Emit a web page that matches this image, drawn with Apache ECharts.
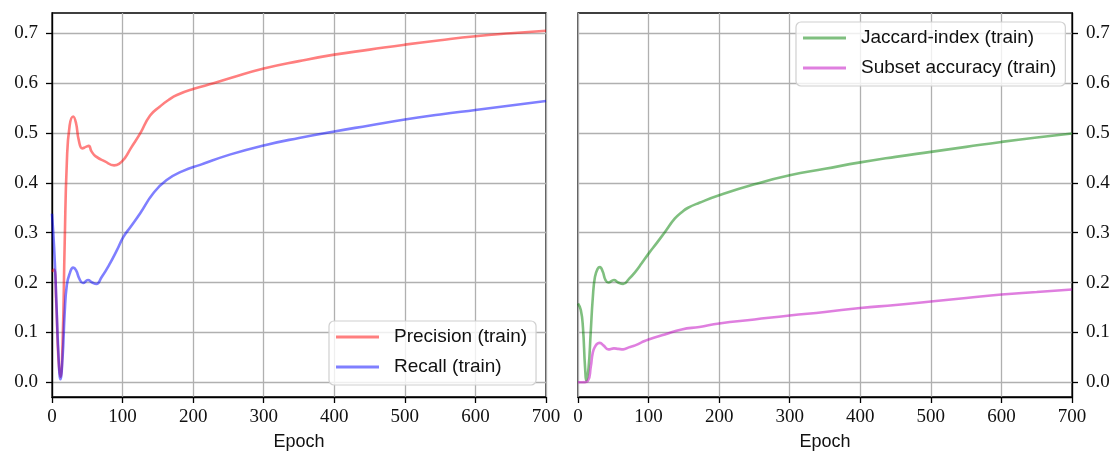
<!DOCTYPE html>
<html>
<head>
<meta charset="utf-8">
<script src="https://cdn.jsdelivr.net/npm/echarts@6/dist/echarts.min.js"></script>
<style>
html,body{margin:0;padding:0;background:#fff;}
#chart{width:1120px;height:456px;}
</style>
</head>
<body>
<div id="chart"></div>
<script>
// ---- data ----
const precisionEpochs = [0, 3, 6, 9, 12, 15, 18, 21, 25, 30, 34, 38, 43, 48, 52, 56, 62, 75, 88, 95, 103, 112, 125, 139, 153, 165, 177, 200, 230, 253, 300, 350, 400, 450, 500, 550, 600, 650, 700];
const precisionValues = [0.222, 0.226, 0.16, 0.05, 0.011, 0.08, 0.28, 0.44, 0.515, 0.533, 0.52, 0.485, 0.469, 0.472, 0.474, 0.463, 0.453, 0.443, 0.435, 0.438, 0.449, 0.47, 0.499, 0.535, 0.553, 0.566, 0.576, 0.588, 0.600, 0.610, 0.629, 0.644, 0.657, 0.667, 0.677, 0.686, 0.694, 0.700, 0.705];

const recallEpochs = [0, 3, 6, 9, 12, 15, 18, 21, 25, 30, 34, 39, 44, 51, 57, 63, 70, 82, 92, 101, 112, 125, 143, 162, 186, 210, 253, 300, 350, 400, 450, 500, 550, 600, 650, 700];
const recallValues = [0.338, 0.27, 0.17, 0.06, 0.006, 0.05, 0.14, 0.195, 0.218, 0.23, 0.225, 0.207, 0.199, 0.205, 0.2, 0.197, 0.21, 0.238, 0.265, 0.291, 0.313, 0.339, 0.378, 0.405, 0.424, 0.436, 0.457, 0.475, 0.490, 0.503, 0.515, 0.527, 0.537, 0.546, 0.555, 0.564];

const jaccardEpochs = [0, 4, 7, 10, 12, 15, 18, 21, 24, 28, 31, 35, 39, 43, 51, 57, 64, 72, 81, 90, 100, 112, 123, 137, 147, 156, 172, 200, 250, 300, 350, 400, 450, 500, 550, 600, 650, 700];
const jaccardValues = [0.158, 0.145, 0.11, 0.03, 0.004, 0.03, 0.1, 0.17, 0.211, 0.228, 0.231, 0.222, 0.205, 0.2, 0.205, 0.2, 0.197, 0.207, 0.221, 0.238, 0.258, 0.28, 0.301, 0.328, 0.341, 0.350, 0.360, 0.375, 0.397, 0.415, 0.428, 0.441, 0.452, 0.462, 0.472, 0.482, 0.491, 0.499];

const subsetEpochs = [0, 7, 14, 18, 21, 24, 28, 31, 36, 43, 51, 57, 64, 72, 81, 90, 100, 123, 147, 172, 200, 250, 300, 350, 400, 450, 500, 550, 600, 650, 700];
const subsetValues = [0.0, 0.0, 0.003, 0.03, 0.06, 0.071, 0.078, 0.079, 0.074, 0.066, 0.068, 0.067, 0.066, 0.07, 0.074, 0.08, 0.086, 0.096, 0.106, 0.111, 0.118, 0.126, 0.134, 0.141, 0.149, 0.155, 0.162, 0.169, 0.176, 0.181, 0.186];

const xTicks = [0, 100, 200, 300, 400, 500, 600, 700];
const yTicks = [0.0, 0.1, 0.2, 0.3, 0.4, 0.5, 0.6, 0.7];
const seriesNames = ['Precision (train)', 'Recall (train)', 'Jaccard-index (train)', 'Subset accuracy (train)'];
const xLabel = 'Epoch';

// ---- chart ----
const pairs = (xs, ys) => xs.map((x, i) => [x, ys[i]]);
const serifFont = '"Liberation Serif", "DejaVu Serif", serif';
const sansFont = '"Liberation Sans", "DejaVu Sans", sans-serif';
const gridColor = '#b0b0b0';

function makeX(gridIndex) {
  return {
    type: 'value', gridIndex, min: 0, max: 700, interval: 100,
    name: xLabel, nameLocation: 'middle', nameGap: 36,
    nameTextStyle: { fontFamily: sansFont, fontSize: 18, color: '#111' },
    axisLine: { show: true, onZero: false, lineStyle: { color: '#000', width: 1.3 } },
    axisTick: { show: true, length: 6, lineStyle: { color: '#000', width: 1.3 }, customValues: xTicks },
    axisLabel: { margin: 11, fontFamily: serifFont, fontSize: 19, color: '#111', customValues: xTicks },
    splitLine: { show: true, lineStyle: { color: gridColor, width: 1.3 } }
  };
}
function makeY(gridIndex, position) {
  return {
    type: 'value', gridIndex, position, min: -0.0295, max: 0.7405,
    axisLine: { show: true, onZero: false, lineStyle: { color: '#000', width: 1.3 } },
    axisTick: { show: true, length: 6, lineStyle: { color: '#000', width: 1.3 }, customValues: yTicks },
    axisLabel: { margin: 14, fontFamily: serifFont, fontSize: 19, color: '#111', customValues: yTicks,
                 formatter: v => v.toFixed(1) },
    splitLine: { show: true, lineStyle: { color: gridColor, width: 1.3 } }
  };
}
function line(name, data, color, idx) {
  return {
    name, type: 'line', xAxisIndex: idx, yAxisIndex: idx, data,
    showSymbol: false, smooth: 0.5,
    lineStyle: { color, width: 2.6 }, itemStyle: { color }, z: 3
  };
}
const legendCommon = {
  orient: 'vertical', icon: 'rect', itemWidth: 43, itemHeight: 3, itemGap: 10,
  backgroundColor: 'rgba(255,255,255,0.8)', borderColor: '#d0d0d0', borderWidth: 1.2, borderRadius: 5,
  textStyle: { fontFamily: sansFont, fontSize: 19, color: '#111', lineHeight: 20, padding: [0, 0, 0, 10] }
};

const chart = echarts.init(document.getElementById('chart'), null, { renderer: 'canvas' });
chart.setOption({
  animation: false,
  backgroundColor: '#fff',
  grid: [
    { left: 52, top: 13, width: 494, height: 384, show: true, borderColor: '#000', borderWidth: 1.3, backgroundColor: 'transparent' },
    { left: 578, top: 13, width: 494, height: 384, show: true, borderColor: '#000', borderWidth: 1.3, backgroundColor: 'transparent' }
  ],
  xAxis: [makeX(0), makeX(1)],
  yAxis: [makeY(0, 'left'), makeY(1, 'right')],
  legend: [
    Object.assign({}, legendCommon, { data: [seriesNames[0], seriesNames[1]], left: 329, top: 321, padding: [6, 9, 8, 7] }),
    Object.assign({}, legendCommon, { data: [seriesNames[2], seriesNames[3]], left: 796, top: 22, padding: [6, 9, 8, 7] })
  ],
  series: [
    line(seriesNames[0], pairs(precisionEpochs, precisionValues), 'rgba(255,0,0,0.5)', 0),
    line(seriesNames[1], pairs(recallEpochs, recallValues), 'rgba(0,0,255,0.5)', 0),
    line(seriesNames[2], pairs(jaccardEpochs, jaccardValues), 'rgba(0,128,0,0.5)', 1),
    line(seriesNames[3], pairs(subsetEpochs, subsetValues), 'rgba(191,0,191,0.5)', 1)
  ]
});
</script>
</body>
</html>
